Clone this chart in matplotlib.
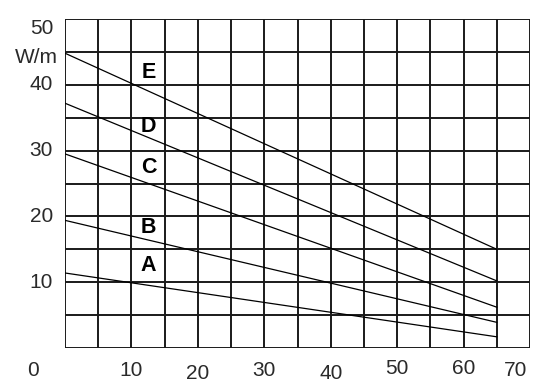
import matplotlib
matplotlib.use("Agg")
import matplotlib.pyplot as plt

# Datos de las curvas (W/m frente a temperatura)
curve_names = ["A", "B", "C", "D", "E"]
x_ends = [0, 65]
curve_values = {
    "A": [11.4, 1.7],
    "B": [19.4, 3.9],
    "C": [29.5, 6.2],
    "D": [37.2, 10.2],
    "E": [44.8, 15.0],
}
label_y = {"A": 12.6, "B": 18.3, "C": 27.5, "D": 33.7, "E": 41.9}
label_x = 12.6

x_ticks = [0, 10, 20, 30, 40, 50, 60, 70]
y_ticks = [10, 20, 30, 40, 50]
unit = "W/m"

plt.rcParams["font.family"] = ["Liberation Sans", "DejaVu Sans"]

fig = plt.figure(figsize=(5.43, 3.87), dpi=100)
ax = fig.add_axes([65 / 543, 1 - 348 / 387, 465 / 543, 329 / 387])
ax.set_xlim(0, 70)
ax.set_ylim(0, 50)

# cuadrícula cada 5 unidades
for gx in range(0, 71, 5):
    ax.axvline(gx, color="#1a1a1a", lw=1.4, zorder=1)
for gy in range(0, 51, 5):
    ax.axhline(gy, color="#1a1a1a", lw=1.4, zorder=1)

ax.set_xticks([])
ax.set_yticks([])
for s in ax.spines.values():
    s.set_visible(False)

for name in curve_names:
    ax.plot(x_ends, curve_values[name], color="black", lw=0.9, zorder=2)
    ax.text(label_x, label_y[name], name, ha="center", va="center",
            fontsize=15.5, fontweight="bold", color="black", zorder=3)

txt_color = "#2a2a2a"
# etiquetas del eje x (0 y 70 desplazadas como en el original)
x_shift = {0: -4.8, 70: -2.1}
y_jitter = {20: -0.4, 40: -0.4, 50: 0.3, 60: 0.3}
for xv in x_ticks:
    xpos = xv + x_shift.get(xv, 0)
    ypos = -3.4 + y_jitter.get(xv, 0)
    ax.text(xpos, ypos, str(xv), ha="center", va="center", fontsize=15,
            color=txt_color, clip_on=False)

# etiquetas del eje y
for yv in y_ticks:
    ypos = yv
    if yv == 50:
        ypos = 48.5
    ax.text(-1.8, ypos, str(yv), ha="right", va="center", fontsize=15,
            color=txt_color, clip_on=False)
ax.text(-1.1, 44.2, unit, ha="right", va="center", fontsize=15,
        color=txt_color, clip_on=False)

fig.savefig("out.png", dpi=100, facecolor="white")
